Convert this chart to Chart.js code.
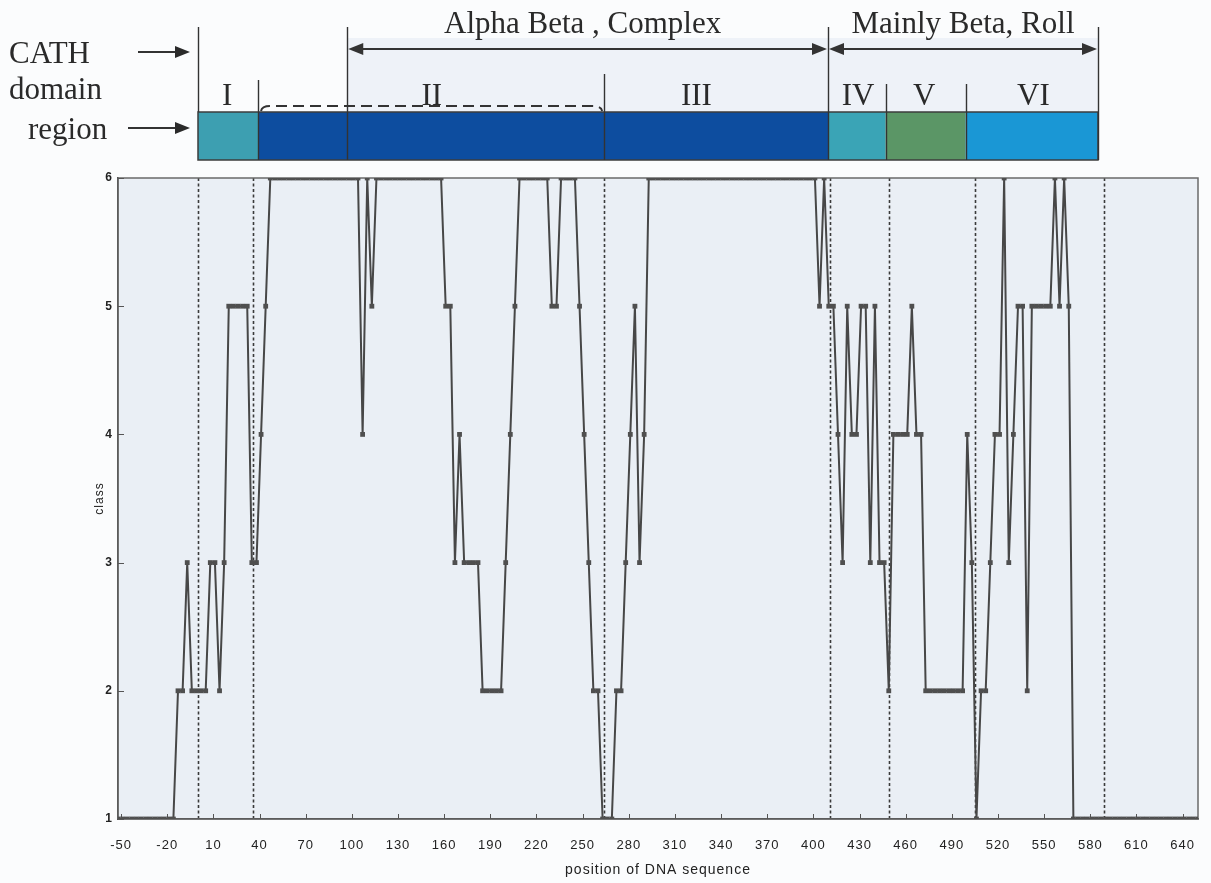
<!DOCTYPE html>
<html>
<head>
<meta charset="utf-8">
<title>CATH domain region and class along DNA sequence</title>
<script src="https://cdn.jsdelivr.net/npm/chart.js"></script>
<style>
  html, body { margin: 0; padding: 0; background: #fbfcfd; }
  #wrap { width: 1211px; height: 883px; }
</style>
</head>
<body>
<div id="wrap"><canvas id="classChart" width="1211" height="883"></canvas></div>
<script>
// Sequence positions start at -52 and go up by 3 (one point per position)
const firstPosition = -52;
const positionStep = 3;

// Class read at each position (235 points, left to right)
const classValues = [
    1, 1, 1, 1, 1, 1, 1, 1, 1, 1,
    1, 1, 1, 2, 2, 3, 2, 2, 2, 2,
    3, 3, 2, 3, 5, 5, 5, 5, 5, 3,
    3, 4, 5, 6, 6, 6, 6, 6, 6, 6,
    6, 6, 6, 6, 6, 6, 6, 6, 6, 6,
    6, 6, 6, 4, 6, 5, 6, 6, 6, 6,
    6, 6, 6, 6, 6, 6, 6, 6, 6, 6,
    6, 5, 5, 3, 4, 3, 3, 3, 3, 2,
    2, 2, 2, 2, 3, 4, 5, 6, 6, 6,
    6, 6, 6, 6, 5, 5, 6, 6, 6, 6,
    5, 4, 3, 2, 2, 1, 1, 1, 2, 2,
    3, 4, 5, 3, 4, 6, 6, 6, 6, 6,
    6, 6, 6, 6, 6, 6, 6, 6, 6, 6,
    6, 6, 6, 6, 6, 6, 6, 6, 6, 6,
    6, 6, 6, 6, 6, 6, 6, 6, 6, 6,
    6, 6, 5, 6, 5, 5, 4, 3, 5, 4,
    4, 5, 5, 3, 5, 3, 3, 2, 4, 4,
    4, 4, 5, 4, 4, 2, 2, 2, 2, 2,
    2, 2, 2, 2, 4, 3, 1, 2, 2, 3,
    4, 4, 6, 3, 4, 5, 5, 2, 5, 5,
    5, 5, 5, 6, 5, 6, 5, 1, 1, 1,
    1, 1, 1, 1, 1, 1, 1, 1, 1, 1,
    1, 1, 1, 1, 1, 1, 1, 1, 1, 1,
    1, 1, 1, 1, 1
];

// Tick labels on the x axis
const xTickLabels = [-50, -20, 10, 40, 70, 100, 130, 160, 190, 220, 250, 280, 310, 340,
    370, 400, 430, 460, 490, 520, 550, 580, 610, 640];
const yTickLabels = [1, 2, 3, 4, 5, 6];

// Dotted dividers drawn inside the plot (sequence positions)
const dividerPositions = [0, 36, 264, 411, 449, 505, 589];

// CATH domains above the plot
const domainNames = ['I', 'II', 'III', 'IV', 'V', 'VI'];
const domainBounds = [0, 39, 264, 409.5, 447, 499, 585];
const domainLabelAt = [19, 152, 324, 429, 472, 543];
const domainColors = ['#3d9fb1', '#0d4d9f', '#0d4d9f', '#3aa4b6', '#5b9666', '#1a97d5'];
const architectures = ['Alpha Beta , Complex', 'Mainly Beta, Roll'];
const architectureBounds = [[97, 409.5], [409.5, 585]];

const points = classValues.map((v, i) => ({ x: firstPosition + i * positionStep, y: v }));

function arrowHead(ctx, x, y, dir) {
    ctx.beginPath();
    ctx.moveTo(x, y);
    ctx.lineTo(x - dir * 15, y - 6);
    ctx.lineTo(x - dir * 15, y + 6);
    ctx.closePath();
    ctx.fill();
}

const plotFrame = {
    id: 'plotFrame',
    beforeUpdate(chart) {
        chart.ctx.letterSpacing = '1px';
    },
    beforeDraw(chart) {
        const { ctx, chartArea: a } = chart;
        ctx.save();
        ctx.fillStyle = '#eaeff5';
        ctx.fillRect(a.left, a.top, a.right - a.left, a.bottom - a.top);
        ctx.restore();
    },
    beforeDatasetsDraw(chart) {
        const { ctx, chartArea: a, scales: { x, y } } = chart;
        ctx.save();
        // dotted dividers
        ctx.strokeStyle = '#3a3a3a';
        ctx.lineWidth = 1.6;
        ctx.setLineDash([3, 2.5]);
        dividerPositions.forEach(p => {
            const px = Math.round(x.getPixelForValue(p)) + 0.5;
            ctx.beginPath();
            ctx.moveTo(px, a.top);
            ctx.lineTo(px, a.bottom);
            ctx.stroke();
        });
        ctx.setLineDash([]);
        // frame
        ctx.strokeStyle = '#6a6a6a';
        ctx.lineWidth = 1.5;
        ctx.strokeRect(a.left, a.top, a.right - a.left, a.bottom - a.top);
        // inward tick marks
        ctx.strokeStyle = '#555';
        ctx.lineWidth = 1;
        yTickLabels.forEach(v => {
            const py = Math.round(y.getPixelForValue(v)) + 0.5;
            ctx.beginPath();
            ctx.moveTo(a.left, py);
            ctx.lineTo(a.left + 6, py);
            ctx.stroke();
        });
        xTickLabels.forEach(v => {
            const px = Math.round(x.getPixelForValue(v)) + 0.5;
            ctx.beginPath();
            ctx.moveTo(px, a.bottom);
            ctx.lineTo(px, a.bottom - 5);
            ctx.stroke();
        });
        ctx.restore();
    },
    afterDraw(chart) {
        const { ctx, scales: { x } } = chart;
        const px = v => x.getPixelForValue(v);
        const barTop = 112, barBottom = 160, arrowY = 49;
        ctx.save();
        ctx.letterSpacing = '0px';

        // light band behind the architecture labels
        ctx.fillStyle = '#eef2f8';
        ctx.fillRect(px(97), 38, px(585) - px(97), barTop - 38);

        // domain bars
        for (let i = 0; i < domainNames.length; i++) {
            const x0 = px(domainBounds[i]), x1 = px(domainBounds[i + 1]);
            ctx.fillStyle = domainColors[i];
            ctx.fillRect(x0, barTop, x1 - x0, barBottom - barTop);
        }
        ctx.strokeStyle = '#3c3c3c';
        ctx.lineWidth = 1.5;
        ctx.strokeRect(px(domainBounds[0]), barTop, px(domainBounds[6]) - px(domainBounds[0]), barBottom - barTop);

        // vertical separators
        const separators = [[0, 27, barTop], [39, 80, barBottom], [97, 27, barBottom], [264, 74, barBottom],
            [409.5, 27, barBottom], [447, 84, barBottom], [499, 84, barBottom], [585, 27, barBottom]];
        ctx.strokeStyle = '#333';
        ctx.lineWidth = 1.4;
        separators.forEach(([p, t, b]) => {
            const sx = Math.round(px(p)) + 0.5;
            ctx.beginPath();
            ctx.moveTo(sx, t);
            ctx.lineTo(sx, b);
            ctx.stroke();
        });

        // dashed bracket over domain II
        const bx0 = px(39), bx1 = px(264);
        ctx.strokeStyle = '#333';
        ctx.lineWidth = 2;
        ctx.setLineDash([11, 6]);
        ctx.beginPath();
        ctx.moveTo(bx0 + 3, barTop - 1);
        ctx.quadraticCurveTo(bx0 + 4, barTop - 6, bx0 + 12, barTop - 6);
        ctx.lineTo(bx1 - 12, barTop - 6);
        ctx.quadraticCurveTo(bx1 - 3, barTop - 6, bx1 - 2, barTop - 1);
        ctx.stroke();
        ctx.setLineDash([]);

        // architecture arrows and names
        ctx.fillStyle = '#333';
        ctx.lineWidth = 2;
        architectureBounds.forEach(([a0, a1], i) => {
            const x0 = px(a0) + 1, x1 = px(a1) - 1;
            ctx.beginPath();
            ctx.moveTo(x0 + 8, arrowY);
            ctx.lineTo(x1 - 8, arrowY);
            ctx.stroke();
            arrowHead(ctx, x0, arrowY, -1);
            arrowHead(ctx, x1, arrowY, 1);
            ctx.font = '31px "Liberation Serif", "Times New Roman", serif';
            ctx.textAlign = 'center';
            ctx.textBaseline = 'alphabetic';
            ctx.fillStyle = '#2a2a2a';
            ctx.fillText(architectures[i], (px(a0) + px(a1)) / 2 + (i === 0 ? -5 : 0), 33);
            ctx.fillStyle = '#333';
        });

        // domain numerals
        ctx.font = '31px "Liberation Serif", "Times New Roman", serif';
        ctx.textAlign = 'center';
        ctx.textBaseline = 'alphabetic';
        ctx.fillStyle = '#2a2a2a';
        domainNames.forEach((n, i) => ctx.fillText(n, px(domainLabelAt[i]), 105));

        // row captions on the left
        ctx.textAlign = 'left';
        ctx.fillText('CATH', 9, 63);
        ctx.fillText('domain', 9, 99);
        ctx.fillText('region', 28, 139);
        ctx.lineWidth = 2;
        ctx.beginPath();
        ctx.moveTo(138, 52);
        ctx.lineTo(176, 52);
        ctx.moveTo(128, 128);
        ctx.lineTo(176, 128);
        ctx.stroke();
        arrowHead(ctx, 190, 52, 1);
        arrowHead(ctx, 190, 128, 1);
        ctx.restore();
    }
};

const chartCtx = document.getElementById('classChart').getContext('2d');
new Chart(chartCtx, {
    type: 'line',
    data: {
        datasets: [{
            label: 'class',
            data: points,
            borderColor: '#474747',
            borderWidth: 2,
            pointStyle: 'rect',
            pointRadius: 3.4,
            pointBackgroundColor: '#4f4f4f',
            pointBorderColor: '#4f4f4f',
            pointBorderWidth: 0,
            tension: 0
        }]
    },
    options: {
        responsive: false,
        animation: false,
        layout: { padding: { left: 88, right: 13, top: 178, bottom: 0 } },
        plugins: {
            legend: { display: false },
            tooltip: { enabled: false }
        },
        scales: {
            x: {
                type: 'linear',
                min: -52,
                max: 650,
                afterBuildTicks: scale => { scale.ticks = xTickLabels.map(v => ({ value: v })); },
                afterFit: scale => {
                    scale.height = 64;
                    scale.paddingLeft = 0;
                    scale.paddingRight = 0;
                },
                grid: { display: false, drawTicks: false },
                border: { display: true, color: '#333', width: 1.5 },
                ticks: {
                    autoSkip: false,
                    maxRotation: 0,
                    padding: 19,
                    color: '#222',
                    font: { family: '"Liberation Sans", Arial, sans-serif', size: 13 }
                },
                title: {
                    display: true,
                    text: 'position of DNA sequence',
                    color: '#222',
                    padding: { top: 0, bottom: 4 },
                    font: { family: '"Liberation Sans", Arial, sans-serif', size: 14 }
                }
            },
            y: {
                min: 1,
                max: 6,
                afterBuildTicks: scale => { scale.ticks = yTickLabels.map(v => ({ value: v })); },
                afterFit: scale => {
                    scale.width = 30;
                    scale.paddingTop = 0;
                    scale.paddingBottom = 0;
                },
                grid: { display: false, drawTicks: false },
                border: { display: true, color: '#333', width: 1.5 },
                ticks: {
                    padding: 5,
                    color: '#222',
                    font: { family: '"Liberation Sans", Arial, sans-serif', size: 12, weight: 'bold' }
                },
                title: {
                    display: true,
                    text: 'class',
                    color: '#222',
                    padding: { top: 4, bottom: 0 },
                    font: { family: '"Liberation Sans", Arial, sans-serif', size: 12 }
                }
            }
        }
    },
    plugins: [plotFrame]
});
</script>
</body>
</html>
